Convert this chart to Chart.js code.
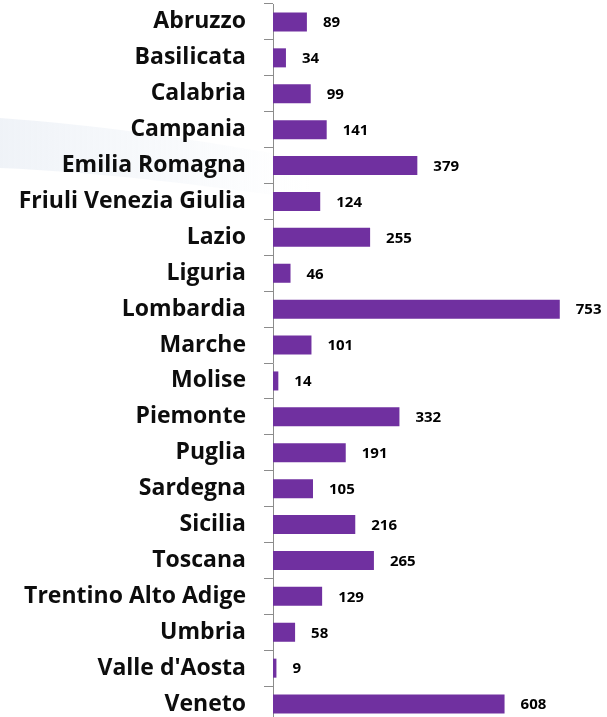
<!DOCTYPE html>
<html lang="it">
<head>
<meta charset="UTF-8">
<title>Regioni</title>
<script src="https://cdn.jsdelivr.net/npm/chart.js"></script>
<style>
  html, body { margin: 0; padding: 0; background: #fff; overflow: hidden; }
  #wrap { position: relative; width: 607px; height: 722px; }
</style>
</head>
<body>
<div id="wrap"><canvas id="regionChart"></canvas></div>
<script>
const regions = ['Abruzzo', 'Basilicata', 'Calabria', 'Campania', 'Emilia Romagna',
  'Friuli Venezia Giulia', 'Lazio', 'Liguria', 'Lombardia', 'Marche', 'Molise',
  'Piemonte', 'Puglia', 'Sardegna', 'Sicilia', 'Toscana', 'Trentino Alto Adige',
  'Umbria', "Valle d'Aosta", 'Veneto'];
const counts = [89, 34, 99, 141, 379, 124, 255, 46, 753, 101, 14, 332, 191, 105, 216, 265, 129, 58, 9, 608];

const barColor = '#7030A0';
const axisColor = '#8c8c8c';
const fontFamily = '"Open Sans", "Noto Sans", sans-serif';

// faint light-blue swoosh behind the labels
const backdrop = {
  id: 'backdrop',
  beforeDraw(chart) {
    const ctx = chart.ctx;
    ctx.save();
    const g = ctx.createLinearGradient(0, 0, 310, 0);
    g.addColorStop(0, 'rgba(210,220,234,0.35)');
    g.addColorStop(0.6, 'rgba(225,233,243,0.22)');
    g.addColorStop(1, 'rgba(235,241,248,0)');
    ctx.fillStyle = g;
    ctx.beginPath();
    ctx.moveTo(0, 118);
    ctx.bezierCurveTo(100, 125, 200, 140, 310, 160);
    ctx.lineTo(310, 200);
    ctx.bezierCurveTo(200, 185, 100, 172, 0, 168);
    ctx.closePath();
    ctx.fill();
    ctx.restore();
  }
};

// value labels to the right of each bar
const valueLabels = {
  id: 'valueLabels',
  afterDatasetsDraw(chart) {
    const ctx = chart.ctx;
    const meta = chart.getDatasetMeta(0);
    ctx.save();
    ctx.font = 'bold 15px ' + fontFamily;
    ctx.fillStyle = '#000';
    ctx.textAlign = 'left';
    ctx.textBaseline = 'middle';
    meta.data.forEach((bar, i) => {
      ctx.fillText(counts[i], bar.x + 16, bar.y + 1);
    });
    ctx.restore();
  }
};

new Chart(document.getElementById('regionChart'), {
  type: 'bar',
  data: {
    labels: regions,
    datasets: [{
      data: counts,
      backgroundColor: barColor,
      borderWidth: 0,
      barPercentage: 0.53,
      categoryPercentage: 1
    }]
  },
  options: {
    indexAxis: 'y',
    responsive: true,
    maintainAspectRatio: false,
    animation: false,
    layout: { padding: { top: 4, right: 0, bottom: 0, left: 0 } },
    plugins: {
      legend: { display: false },
      tooltip: { enabled: false }
    },
    scales: {
      x: { display: false, min: 0, max: 877 },
      y: {
        afterFit(scale) {
          scale.width = 273;
          // no extra room above/below for the label halves
          scale.paddingTop = 0;
          scale.paddingBottom = 0;
        },
        grid: { drawOnChartArea: false, drawTicks: true, tickLength: 9, color: axisColor, offset: true },
        border: { display: true, color: axisColor },
        ticks: {
          autoSkip: false,
          padding: 18,
          color: '#0d0d0d',
          font: { family: fontFamily, size: 23, weight: 'bold' }
        }
      }
    }
  },
  plugins: [backdrop, valueLabels]
});
</script>
</body>
</html>
